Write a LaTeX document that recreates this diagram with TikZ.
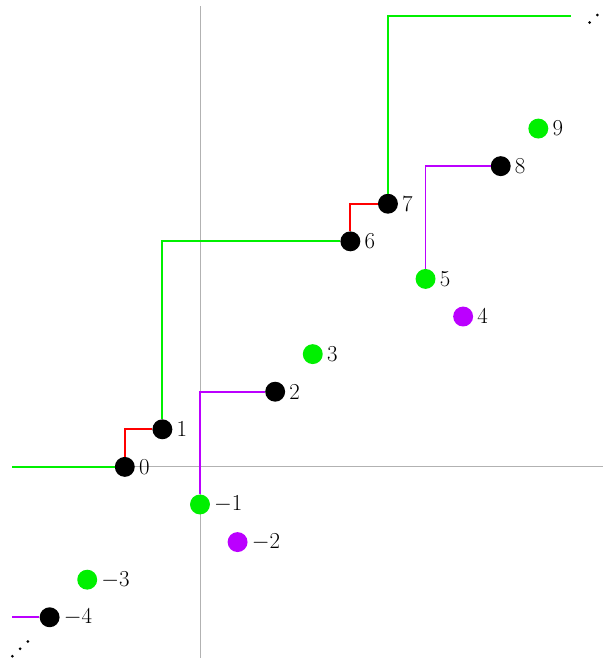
\documentclass[tikz,border=0pt]{standalone}
\usepackage{amssymb,amsmath}
\usetikzlibrary{calc}
\definecolor{vgreen}{RGB}{0,240,0}
\definecolor{vpurple}{RGB}{187,0,255}
\tikzset{
  pt/.style={circle,fill=#1,inner sep=0pt,minimum size=0.53cm},
  lbl/.style={label={[label distance=-0.5pt,font=\fontsize{16}{19}\selectfont]right:$#1$}},
  greenline/.style={vgreen,line width=1.4pt},
  redline/.style={red,line width=1.4pt},
  purpleline/.style={vpurple,line width=1.4pt},
  axis/.style={gray!60,line width=0.7pt}
}

\begin{document}
\begin{tikzpicture}
    \useasboundingbox (-3.32,-5.19) rectangle (12.71,12.42);
    % axes
    \draw[axis] (-3,0) -- (12.75,0);
    \draw[axis] (2,-5.08) -- (2,12.26);
    % points
    \node[pt=black,lbl=0] (p0) at (0,0) {};
    \node[pt=black,lbl=1] (p1) at (1,1) {};
    \node[pt=black,lbl=2] (p2) at (4,2) {};
    \node[pt=vgreen,lbl=3] (p3) at (5,3) {};
    \node[pt=vpurple,lbl=4] (p4) at (9,4) {};
    \node[pt=vgreen,lbl=5] (p5) at (8,5) {};
    \node[pt=black,lbl=6] (p6) at (6,6) {};
    \node[pt=black,lbl=7] (p7) at (7,7) {};
    \node[pt=black,lbl=8] (p8) at (10,8) {};
    \node[pt=vgreen,lbl=9] (p9) at (11,9) {};
    \node[pt=vgreen,lbl=-1] (m1) at (2,-1) {};
    \node[pt=vpurple,lbl=-2] (m2) at (3,-2) {};
    \node[pt=vgreen,lbl=-3] (m3) at (-1,-3) {};
    \node[pt=black,lbl=-4] (m4) at (-2,-4) {};
    \coordinate (gstart) at (-3,0);
    \coordinate (gend) at (11.86,12);
    \coordinate (pstart) at (-3,-4);
    % connectors
    \draw[greenline] (gstart) -- (p0.west);
    \draw[redline] (p0.north) |- (p1.west);
    \draw[greenline] (p1.north) |- (p6.west);
    \draw[redline] (p6.north) |- (p7.west);
    \draw[greenline] (p7.north) |- (gend);
    \draw[purpleline] (m1.north) |- (p2.west);
    \draw[purpleline] (p5.north) |- (p8.west);
    \draw[purpleline] (pstart) -- (m4.west);
    % dots
    \foreach \k in {-1,0,1} {
      \fill ($(12.57,12.02)+\k*(0.205,0.2)$) circle (0.04);
      \fill ($(-2.785,-4.84)+\k*(0.205,0.195)$) circle (0.04);
    }
\end{tikzpicture}
\end{document}
